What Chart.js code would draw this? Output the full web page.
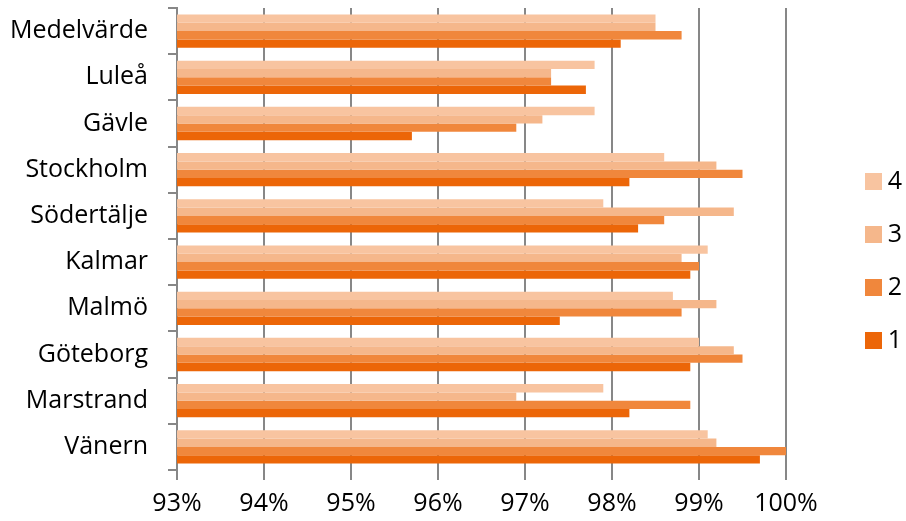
<!DOCTYPE html>
<html>
<head>
<meta charset="utf-8">
<script src="https://cdn.jsdelivr.net/npm/chart.js@4/dist/chart.umd.min.js"></script>
<style>
  html, body { margin: 0; padding: 0; background: #ffffff; }
  #wrap { width: 906px; height: 521px; }
</style>
</head>
<body>
<div id="wrap"><canvas id="c" width="906" height="521"></canvas></div>
<script>
const categories = ['Medelvärde', 'Luleå', 'Gävle', 'Stockholm', 'Södertälje', 'Kalmar', 'Malmö', 'Göteborg', 'Marstrand', 'Vänern'];
const series4 = [98.5, 97.8, 97.8, 98.6, 97.9, 99.1, 98.7, 99.0, 97.9, 99.1];
const series3 = [98.5, 97.3, 97.2, 99.2, 99.4, 98.8, 99.2, 99.4, 96.9, 99.2];
const series2 = [98.8, 97.3, 96.9, 99.5, 98.6, 99.0, 98.8, 99.5, 98.9, 100.0];
const series1 = [98.1, 97.7, 95.7, 98.2, 98.3, 98.9, 97.4, 98.9, 98.2, 99.7];
const seriesNames = ['4', '3', '2', '1'];
const xMin = 93, xMax = 100, xStep = 1;

const FONT = { family: '"Open Sans", Lato, sans-serif', size: 25 };
const GRID = '#878787';
const LEGEND_PAD = 28;

const legendPlace = {
  id: 'legendPlace',
  afterInit(chart) {
    const lg = chart.legend;
    if (!lg) return;
    const fit = lg.fit.bind(lg);
    lg.fit = function () { fit(); this.width = 120; };
  },
  afterLayout(chart) {
    const lg = chart.legend;
    if (!lg) return;
    lg.left = 865 - LEGEND_PAD;
    lg.right = 902;
    lg.width = lg.right - lg.left;
    lg.top = 1;
    lg.height = lg.bottom - lg.top;
  }
};

new Chart(document.getElementById('c'), {
  type: 'bar',
  data: {
    labels: categories,
    datasets: [
      { label: seriesNames[0], data: series4, backgroundColor: '#F8C4A0' },
      { label: seriesNames[1], data: series3, backgroundColor: '#F5B78B' },
      { label: seriesNames[2], data: series2, backgroundColor: '#F0873C' },
      { label: seriesNames[3], data: series1, backgroundColor: '#EC6608' }
    ]
  },
  options: {
    indexAxis: 'y',
    responsive: false,
    animation: false,
    devicePixelRatio: 1,
    layout: { padding: { top: 8, left: 0, right: 0, bottom: 0 } },
    datasets: { bar: { categoryPercentage: 0.72, barPercentage: 1.0, borderWidth: 0 } },
    plugins: {
      legend: {
        position: 'right',
        align: 'center',
        labels: { boxWidth: 17, boxHeight: 17, padding: LEGEND_PAD, color: '#000', font: FONT, textAlign: 'right' }
      },
      tooltip: { enabled: false }
    },
    scales: {
      x: {
        min: xMin, max: xMax,
        ticks: { stepSize: xStep, color: '#000', font: FONT, padding: 9, callback: v => v + '%' },
        grid: { color: GRID, lineWidth: 2, tickLength: 10 },
        border: { display: false },
        afterFit(s) { s.height = 51; s.paddingLeft = 0; s.paddingRight = 0; }
      },
      y: {
        ticks: { color: '#000', font: FONT, padding: 20 },
        grid: { color: GRID, lineWidth: 2, drawOnChartArea: false, tickLength: 9 },
        border: { display: true, color: GRID, width: 2 },
        afterFit(s) { s.width = 177; s.paddingTop = 0; s.paddingBottom = 0; }
      }
    }
  },
  plugins: [legendPlace]
});
</script>
</body>
</html>
